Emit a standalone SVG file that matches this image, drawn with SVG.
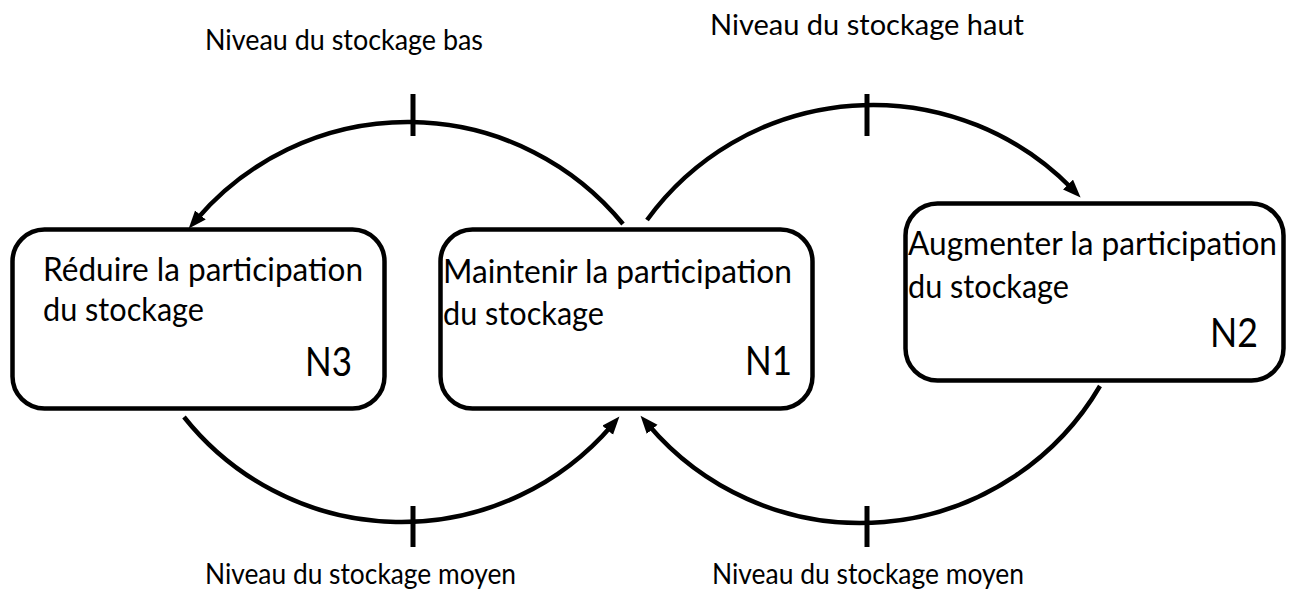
<svg xmlns="http://www.w3.org/2000/svg" width="1293" height="594" viewBox="0 0 1293 594">
<style>
.box{fill:#fff;stroke:#000;stroke-width:4.5}
.t{font-family:Lato,"Liberation Sans",sans-serif;font-size:33px;fill:#000}
.n{font-family:Lato,"Liberation Sans",sans-serif;font-size:40px;fill:#000}
.lbl{font-family:Lato,"Liberation Sans",sans-serif;font-size:29px;fill:#000}
.arc{fill:none;stroke:#000;stroke-width:4.5}
.tick{stroke:#000;stroke-width:5}
</style>
<defs>
<marker id="ah" markerUnits="userSpaceOnUse" markerWidth="19" markerHeight="15" refX="6" refY="7" orient="auto">
<path d="M0,0 L18,7 L0,14 z" fill="#000"/>
</marker>
</defs>
<rect width="1293" height="594" fill="#fff"/>
<g id="connectors">
<path class="arc" d="M623,224 A278,278 0 0 0 196.5,219.5" marker-end="url(#ah)"/>
<path class="arc" d="M647,220 A279,279 0 0 1 1072.2,188.8" marker-end="url(#ah)"/>
<path class="arc" d="M184,417 A277.5,277.5 0 0 0 611.6,425.7" marker-end="url(#ah)"/>
<path class="arc" d="M1100,386 A278,278 0 0 1 648.3,424.8" marker-end="url(#ah)"/>
<line class="tick" x1="413" y1="94" x2="413" y2="136"/>
<line class="tick" x1="867" y1="94" x2="867" y2="136"/>
<line class="tick" x1="413" y1="506" x2="413" y2="547"/>
<line class="tick" x1="867" y1="506" x2="867" y2="547"/>
</g>
<g id="N3">
<rect class="box" x="12.5" y="229.5" width="372" height="179" rx="32"/>
<text class="t" x="43" y="281" textLength="320" lengthAdjust="spacingAndGlyphs">Réduire la participation</text>
<text class="t" x="43" y="321" textLength="161" lengthAdjust="spacingAndGlyphs">du stockage</text>
<text class="n" x="305" y="376" textLength="47" lengthAdjust="spacingAndGlyphs">N3</text>
</g>
<g id="N1">
<rect class="box" x="440.5" y="229.5" width="372" height="179" rx="32"/>
<text class="t" x="443" y="283" textLength="349" lengthAdjust="spacingAndGlyphs">Maintenir la  participation</text>
<text class="t" x="443" y="325" textLength="161" lengthAdjust="spacingAndGlyphs">du stockage</text>
<text class="n" x="745" y="375" textLength="47" lengthAdjust="spacingAndGlyphs">N1</text>
</g>
<g id="N2">
<rect class="box" x="905.5" y="203.5" width="378" height="177" rx="32"/>
<text class="t" x="908" y="255" textLength="369" lengthAdjust="spacingAndGlyphs">Augmenter la participation</text>
<text class="t" x="908" y="298" textLength="161" lengthAdjust="spacingAndGlyphs">du stockage</text>
<text class="n" x="1210" y="347" textLength="48" lengthAdjust="spacingAndGlyphs">N2</text>
</g>
<g id="labels">
<text class="lbl" x="205" y="50" textLength="278" lengthAdjust="spacingAndGlyphs">Niveau du stockage bas</text>
<text class="lbl" x="710" y="35" textLength="314" lengthAdjust="spacingAndGlyphs">Niveau du stockage haut</text>
<text class="lbl" x="205" y="584" textLength="311" lengthAdjust="spacingAndGlyphs">Niveau du stockage moyen</text>
<text class="lbl" x="712" y="584" textLength="312" lengthAdjust="spacingAndGlyphs">Niveau du stockage moyen</text>
</g>
</svg>
